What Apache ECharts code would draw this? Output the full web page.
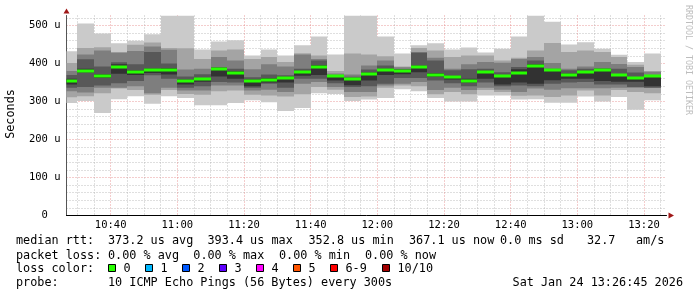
<!DOCTYPE html>
<html>
<head>
<meta charset="utf-8">
<script src="https://cdn.jsdelivr.net/npm/echarts@6/dist/echarts.min.js"></script>
<style>
html,body{margin:0;padding:0;background:#fff;}
#c{width:697px;height:297px;}
</style>
</head>
<body>
<div id="c"></div>
<script>
// ---- data ----
const windowStart = '10:26:45';
const windowEnd = '13:26:45';
const boxStart = ['10:25','10:30','10:35','10:40','10:45','10:50','10:55','11:00','11:05','11:10','11:15','11:20',
  '11:25','11:30','11:35','11:40','11:45','11:50','11:55','12:00','12:05','12:10','12:15','12:20',
  '12:25','12:30','12:35','12:40','12:45','12:50','12:55','13:00','13:05','13:10','13:15','13:20'];
const stepMinutes = 5;
// sorted pings (us), ping1 = fastest ... ping10 = slowest
const ping10 = [432,505,479,453,460,477,560,560,437,458,461,421,437,421,448,471,424,560,560,471,426,448,453,437,442,429,439,471,560,510,450,456,439,423,404,426];
const ping9  = [401,441,443,430,449,455,441,440,412,434,437,412,417,404,427,421,380,426,424,419,392,441,434,417,421,421,408,415,434,454,430,434,430,417,397,380];
const ping8  = [380,424,434,428,433,445,436,384,386,417,408,385,398,392,424,412,374,371,395,408,390,430,415,386,398,404,402,412,417,401,386,392,404,399,391,378];
const ping7  = [370,411,392,403,398,430,400,366,372,391,386,364,371,369,386,408,370,365,384,395,385,428,408,382,385,386,377,391,408,386,382,386,388,386,376,370];
const ping6  = [360,386,372,398,382,387,388,358,362,389,380,358,362,365,381,396,368,362,376,386,384,395,375,368,360,381,370,385,398,384,374,381,384,372,364,368];
const ping5  = [345,376,362,373,370,375,371,345,352,366,360,340,350,350,368,370,355,343,355,370,372,377,365,358,350,360,345,350,347,356,360,360,354,352,352,340];
const ping4  = [336,338,342,348,354,369,360,336,340,351,350,336,347,336,360,360,348,338,340,347,362,362,355,348,340,350,340,342,340,347,350,351,345,345,338,336];
const ping3  = [327,324,336,336,340,322,336,329,329,342,342,329,331,325,347,351,338,325,325,342,347,351,330,336,330,336,331,325,334,331,335,335,335,336,336,336];
const ping2  = [311,314,322,334,330,318,330,320,318,327,329,318,316,313,319,338,331,312,313,336,342,340,319,325,319,330,325,315,316,312,316,329,316,330,325,322];
const ping1  = [296,301,270,306,314,294,314,309,290,290,296,303,298,275,283,322,320,301,305,309,332,327,309,300,300,316,316,305,306,297,297,313,300,312,278,303];
const median = [355,381,368,392,377,382,382,353,358,385,375,355,357,361,377,391,366,359,372,382,381,391,371,365,355,377,366,376,393,382,370,377,382,369,361,366];
const xTickLabels = ['10:40','11:00','11:20','11:40','12:00','12:20','12:40','13:00','13:20'];
const yTickValues = [0,100,200,300,400,500];
const yMax = 526.3;
const lossLabels = ['0','1','2','3','4','5','6-9','10/10'];
const lossColors = ['#26ff00','#00b8ff','#0059ff','#5e00ff','#ff00ff','#ff5500','#ff0000','#a10000'];
const legendLine1 = [['median rtt:',16],['373.2 us avg',108],['393.4 us max',207.5],['352.8 us min',308.5],['367.1 us now',409],['0.0 ms sd',500],['32.7',587],['am/s',636]];
const legendLine2 = [['packet loss:',16],['0.00 % avg',108],['0.00 % max',193.3],['0.00 % min',279],['0.00 % now',365]];
const probeText = '10 ICMP Echo Pings (56 Bytes) every 300s';
const dateText = 'Sat Jan 24 13:26:45 2026';

// ---- helpers ----
function toMin(s){ const p = s.split(':').map(Number); return (p[0]-10)*60 + p[1] + (p[2]||0)/60; }
function fmt(m){ const h = Math.floor(m/60)+10, mm = Math.round(m%60); return h + ':' + (mm<10?'0':'') + mm; }
const xMin = toMin(windowStart), xMax = toMin(windowEnd);
const majorX = xTickLabels.map(toMin);
const minorX = [];
for (const s of boxStart) { const t = toMin(s) + stepMinutes; if (t > xMin && t < xMax && majorX.indexOf(t) < 0) minorX.push(t); }
const minorY = [];
for (let v = 20; v < yMax; v += 20) if (v % 100 !== 0) minorY.push(v);

const boxes = boxStart.map((s,i) => [toMin(s), toMin(s)+stepMinutes,
  ping1[i],ping2[i],ping3[i],ping4[i],ping5[i],ping6[i],ping7[i],ping8[i],ping9[i],ping10[i], median[i]]);

const greys = ['#cacaca','#a4a4a4','#7e7e7e','#585858','#323232'];
const MONO = 'DejaVu Sans Mono';

function renderItem(params, api){
  const cs = params.coordSys;
  const clip = {x:cs.x, y:cs.y, width:cs.width, height:cs.height};
  const t0 = api.value(0), t1 = api.value(1);
  const children = [];
  for (let k=0;k<5;k++){
    const lo = api.value(2+k), hi = api.value(11-k);
    const a = api.coord([t0, hi]), b = api.coord([t1, lo]);
    const x0 = Math.round(a[0]), x1 = Math.round(b[0]);
    const r = echarts.graphic.clipRectByRect({x:x0, y:a[1], width:x1-x0, height:b[1]-a[1]}, clip);
    if (r) children.push({type:'rect', shape:r, style:{fill:greys[k]}});
  }
  const m = api.coord([t0, api.value(12)]), m2 = api.coord([t1, api.value(12)]);
  const x0 = Math.round(m[0]), x1 = Math.round(m2[0]);
  const r = echarts.graphic.clipRectByRect({x:x0, y:Math.round(m[1])-1.5, width:x1-x0, height:3}, clip);
  if (r) children.push({type:'rect', shape:r, style:{fill:lossColors[0]}});
  return {type:'group', children};
}

// graphic texts
const graphics = [];
function txt(s, x, y, extra){ graphics.push(Object.assign({type:'text', x:x, y:y, silent:true,
  style:Object.assign({text:s, fill:'#000', font:'11.8px "'+MONO+'"', textAlign:'left', textVerticalAlign:'middle'}, extra||{})})); }
const L1 = 241, L2 = 255.5, L3 = 268.5, L4 = 282.5;
legendLine1.forEach(p => txt(p[0], p[1], L1));
legendLine2.forEach(p => txt(p[0], p[1], L2));
txt('loss color:', 16, L3);
const sqX = [108.5,145.5,182.5,219.5,256.5,293.5,330.5,382.5];
lossLabels.forEach((l,i) => {
  graphics.push({type:'rect', silent:true, shape:{x:sqX[i], y:264.5, width:7, height:7}, style:{fill:lossColors[i], stroke:'#000', lineWidth:1}});
  txt(l, sqX[i]+15, L3);
});
txt('probe:', 16, L4);
txt(probeText, 108, L4);
txt(dateText, 683, L4, {textAlign:'right'});
graphics.push({type:'text', x:11, y:114, rotation:Math.PI/2, silent:true,
  style:{text:'Seconds', fill:'#000', font:'11.8px "'+MONO+'"', textAlign:'center', textVerticalAlign:'middle'}});
graphics.push({type:'text', x:688.5, y:60, rotation:-Math.PI/2, silent:true,
  style:{text:'RRDTOOL / TOBI OETIKER', fill:'#bdbdbd', font:'8.3px "'+MONO+'"', textAlign:'center', textVerticalAlign:'middle'}});
// axis arrows
graphics.push({type:'polygon', silent:true, z:100, shape:{points:[[66.5,8.5],[63.5,13.5],[69.5,13.5]]}, style:{fill:'#a01818'}});
graphics.push({type:'polygon', silent:true, z:100, shape:{points:[[674,215.5],[668.5,212.5],[668.5,218.5]]}, style:{fill:'#a01818'}});

const chart = echarts.init(document.getElementById('c'), null, {renderer:'canvas'});
chart.setOption({
  backgroundColor:'#ffffff',
  animation:false,
  grid:{left:66.5, right:30.5, top:15.5, bottom:81.5},
  xAxis:[{
    type:'value', min:xMin, max:xMax, position:'bottom',
    axisLine:{show:true, onZero:false, lineStyle:{color:'#000', width:1}},
    axisTick:{show:false, customValues:majorX},
    axisLabel:{customValues:majorX, formatter:v => fmt(v), color:'#000', fontFamily:MONO, fontSize:10.5, margin:4},
    splitLine:{show:true, lineStyle:{color:'rgba(225,120,120,0.75)', type:[1,2], width:1}}
  },{
    type:'value', min:xMin, max:xMax, position:'bottom',
    axisLine:{show:false}, axisLabel:{show:false, customValues:minorX},
    axisTick:{show:false, customValues:minorX},
    splitLine:{show:true, lineStyle:{color:'rgba(170,170,170,0.75)', type:[1,2], width:1}}
  }],
  yAxis:[{
    type:'value', min:0, max:yMax,
    axisLine:{show:true, onZero:false, lineStyle:{color:'#555', width:1}},
    axisTick:{show:false, customValues:yTickValues},
    axisLabel:{customValues:yTickValues, formatter:v => v===0 ? '0  ' : v+' u', color:'#000', fontFamily:MONO, fontSize:10.5, margin:6},
    splitLine:{show:true, lineStyle:{color:'rgba(225,120,120,0.75)', type:[1,2], width:1}}
  },{
    type:'value', min:0, max:yMax,
    axisLine:{show:false}, axisLabel:{show:false, customValues:minorY},
    axisTick:{show:false, customValues:minorY},
    splitLine:{show:true, lineStyle:{color:'rgba(170,170,170,0.75)', type:[1,2], width:1}}
  }],
  series:[{
    type:'custom', renderItem:renderItem, data:boxes, xAxisIndex:0, yAxisIndex:0, z:5,
    encode:{x:[0,1], y:[2,3,4,5,6,7,8,9,10,11,12]}, clip:true, silent:true
  }],
  graphic:graphics
});
</script>
</body>
</html>
